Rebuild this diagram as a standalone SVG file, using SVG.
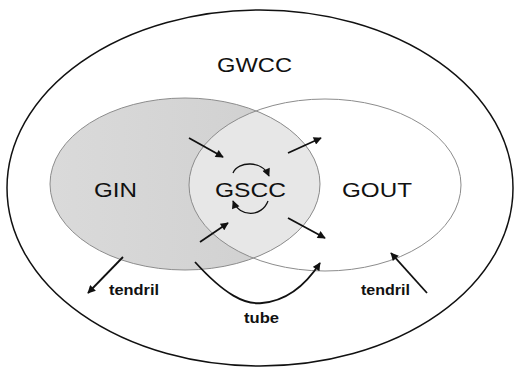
<svg xmlns="http://www.w3.org/2000/svg" width="515" height="370" viewBox="0 0 515 370">
  <style>
    .set { stroke: #8c8c8c; stroke-width: 1; }
    .label { font-family: "Liberation Sans", Arial, sans-serif; font-size: 21px; fill: #111; }
    .small { font-family: "Liberation Sans", Arial, sans-serif; font-size: 14px; font-weight: bold; fill: #111; }
    .edge { fill: none; stroke: #111; stroke-width: 1.8; marker-end: url(#head); }
  </style>
  <defs>
    <marker id="head" viewBox="0 0 10 10" refX="9" refY="5" markerWidth="9" markerHeight="8" markerUnits="userSpaceOnUse" orient="auto">
      <path d="M0,0 L10,5 L0,10 z" fill="#111"/>
    </marker>
    <linearGradient id="ginFill" x1="0" y1="0" x2="1" y2="0">
      <stop offset="0" stop-color="#dadada"/>
      <stop offset="0.7" stop-color="#d2d2d2"/>
      <stop offset="1" stop-color="#c6c6c6"/>
    </linearGradient>
    <clipPath id="ginClip">
      <ellipse cx="185" cy="184" rx="135" ry="86"/>
    </clipPath>
  </defs>

  <rect width="515" height="370" fill="#fff"/>

  <g id="gwcc">
    <ellipse cx="260" cy="188" rx="253" ry="178" fill="none" stroke="#111" stroke-width="1.5"/>
    <text class="label" x="217" y="72" textLength="75" lengthAdjust="spacingAndGlyphs">GWCC</text>
  </g>

  <g id="gin">
    <ellipse cx="185" cy="184" rx="135" ry="86" fill="url(#ginFill)"/>
    <text class="label" x="94" y="197" textLength="43" lengthAdjust="spacingAndGlyphs">GIN</text>
  </g>

  <g id="gout">
    <ellipse cx="325" cy="185" rx="136" ry="86" fill="none"/>
    <text class="label" x="342" y="197" textLength="70" lengthAdjust="spacingAndGlyphs">GOUT</text>
  </g>

  <g id="gscc">
    <ellipse cx="325" cy="185" rx="136" ry="86" fill="#e7e7e7" clip-path="url(#ginClip)"/>
    <text class="label" x="215" y="197" textLength="71" lengthAdjust="spacingAndGlyphs">GSCC</text>
  </g>

  <!-- set outlines drawn over the fills -->
  <g id="outlines" fill="none">
    <ellipse class="set" cx="185" cy="184" rx="135" ry="86"/>
    <ellipse class="set" cx="325" cy="185" rx="136" ry="86"/>
  </g>

  <g id="connectors">
    <path class="edge" d="M189,138 L223,157"/>
    <path class="edge" d="M288,153 L321,138"/>
    <path class="edge" d="M200,242 L228,223"/>
    <path class="edge" d="M288,218 L325,238"/>
    <path class="edge" style="stroke-width:1.3" d="M233,173 C238,161 262,160 269,176"/>
    <path class="edge" style="stroke-width:1.3" d="M268,201 C262,217 240,218 233,201"/>
    <path class="edge" d="M123,257 L88,293"/>
    <path class="edge" d="M427,293 L391,253"/>
    <path class="edge" d="M195,262 C225,295 245,305 262,303 C285,301 305,286 320,263"/>
  </g>

  <g id="labels">
    <text class="small" x="109" y="295" textLength="50" lengthAdjust="spacingAndGlyphs">tendril</text>
    <text class="small" x="361" y="295" textLength="49" lengthAdjust="spacingAndGlyphs">tendril</text>
    <text class="small" x="244" y="323" textLength="35" lengthAdjust="spacingAndGlyphs">tube</text>
  </g>
</svg>
